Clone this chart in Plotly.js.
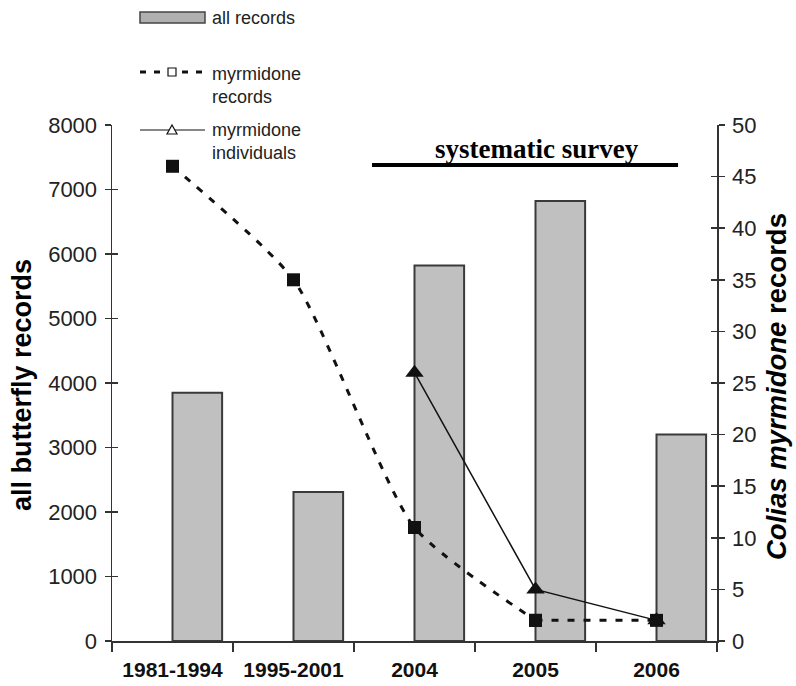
<!DOCTYPE html>
<html>
<head>
<meta charset="utf-8">
<script src="https://cdn.plot.ly/plotly-3.0.1.min.js"></script>
<style>html,body{margin:0;padding:0;background:#fff;}#chart{width:796px;height:686px;}</style>
</head>
<body>
<div id="chart"></div>
<script>
// ---- data ----
const periods = ["1981-1994", "1995-2001", "2004", "2005", "2006"];
const allRecords = [3850, 2310, 5820, 6820, 3200];
const myrmidoneRecords = [46, 35, 11, 2, 2];
const myrmidoneIndividualPeriods = ["2004", "2005", "2006"];
const myrmidoneIndividuals = [26, 5, 2];
const leftTicks = [0, 1000, 2000, 3000, 4000, 5000, 6000, 7000, 8000];
const rightTicks = [0, 5, 10, 15, 20, 25, 30, 35, 40, 45, 50];

const axisColor = "#333333";
const font = "Liberation Sans, Arial, sans-serif";

const recLine = {color: "#111", width: 3, dash: "7px,9px"};
const recMarker = {symbol: "square", size: 13, color: "#111"};

const traces = [
  {
    type: "bar", x: periods, y: allRecords, name: "all records",
    width: 0.41, offset: 0,
    marker: {color: "#c0c0c0", line: {color: "#3a3a3a", width: 2}},
    showlegend: false
  },
  // myrmidone records: smoothed part (first four periods)
  {
    type: "scatter", mode: "lines+markers", x: periods.slice(0, 4), y: myrmidoneRecords.slice(0, 4), yaxis: "y2",
    name: "myrmidone records",
    line: Object.assign({shape: "spline", smoothing: 0.6}, recLine),
    marker: recMarker, showlegend: false
  },
  // myrmidone records: flat final segment
  {
    type: "scatter", mode: "lines+markers", x: periods.slice(3), y: myrmidoneRecords.slice(3), yaxis: "y2",
    name: "myrmidone records",
    line: recLine, marker: recMarker, showlegend: false
  },
  {
    type: "scatter", mode: "lines+markers", x: myrmidoneIndividualPeriods, y: myrmidoneIndividuals, yaxis: "y2",
    name: "myrmidone individuals",
    line: {color: "#111", width: 1.5},
    marker: {symbol: "triangle-up", size: 16, color: "#111"},
    showlegend: false
  }
];

// helpers for paper coordinates of the decorative legend (pixel based)
const L = 112, R = 717, T = 125, B = 641;
const px = X => (X - L) / (R - L);
const py = Y => (B - Y) / (B - T);

const shapes = [
  // legend: all records
  {type: "rect", xref: "paper", yref: "paper", x0: px(140), x1: px(205), y0: py(23), y1: py(12),
   fillcolor: "#b0b0b0", line: {color: "#444", width: 1.5}},
  // legend: myrmidone records
  {type: "line", xref: "paper", yref: "paper", x0: px(140), x1: px(205), y0: py(72), y1: py(72),
   line: {color: "#111", width: 3, dash: "6px,8px"}},
  {type: "rect", xref: "paper", yref: "paper", x0: px(168), x1: px(176), y0: py(76), y1: py(68),
   fillcolor: "#fff", line: {color: "#111", width: 1.2}},
  // legend: myrmidone individuals
  {type: "line", xref: "paper", yref: "paper", x0: px(140), x1: px(205), y0: py(130), y1: py(130),
   line: {color: "#111", width: 1.2}},
  {type: "path", xref: "paper", yref: "paper",
   path: "M " + px(167) + " " + py(134) + " L " + px(177) + " " + py(134) + " L " + px(172) + " " + py(125) + " Z",
   fillcolor: "#fff", line: {color: "#111", width: 1.2}},
  // systematic survey bar
  {type: "line", xref: "x", yref: "y", x0: 1.649, x1: 4.178, y0: 7380, y1: 7380,
   line: {color: "#000", width: 4}}
];

const annotations = [
  {xref: "paper", yref: "paper", x: px(210), y: py(18), text: "all records", showarrow: false,
   xanchor: "left", yanchor: "middle", font: {family: font, size: 18, color: "#222"}},
  {xref: "paper", yref: "paper", x: px(210), y: py(85), text: "myrmidone<br>records", showarrow: false,
   xanchor: "left", yanchor: "middle", align: "left", font: {family: font, size: 18, color: "#222"}},
  {xref: "paper", yref: "paper", x: px(210), y: py(141), text: "myrmidone<br>individuals", showarrow: false,
   xanchor: "left", yanchor: "middle", align: "left", font: {family: font, size: 18, color: "#222"}},
  {xref: "x", yref: "y", x: 3.012, y: 7380, yshift: -1, text: "<b>systematic survey</b>", showarrow: false,
   xanchor: "center", yanchor: "bottom", font: {family: "Liberation Serif, Times New Roman, serif", size: 27, color: "#000"}},
  {xref: "paper", yref: "paper", x: px(22), y: py(385), text: "<b>all butterfly records</b>", showarrow: false,
   textangle: -90, xanchor: "center", yanchor: "middle", font: {family: font, size: 27, color: "#000"}},
  {xref: "paper", yref: "paper", x: px(776), y: py(387), text: "<b><i>Colias myrmidone</i> records</b>", showarrow: false,
   textangle: -90, xanchor: "center", yanchor: "middle", font: {family: font, size: 27.5, color: "#000"}}
];

const layout = {
  width: 796, height: 686,
  margin: {l: L, r: 796 - R, t: T, b: 686 - B},
  paper_bgcolor: "#fff", plot_bgcolor: "#fff",
  showlegend: false,
  font: {family: font, color: "#222"},
  xaxis: {
    type: "category", categoryorder: "array", categoryarray: periods,
    range: [-0.5, 4.5], tickson: "boundaries", ticks: "outside", ticklen: 9, tickwidth: 1.5, tickcolor: axisColor,
    showline: true, linecolor: axisColor, linewidth: 1.5, showgrid: false, zeroline: false,
    tickfont: {family: font, size: 21, color: "#111", weight: "bold"}, ticklabelstandoff: 9
  },
  yaxis: {
    range: [0, 8000], tickvals: leftTicks, ticks: "outside", ticklen: 6, tickwidth: 1.5, tickcolor: axisColor,
    showline: true, linecolor: axisColor, linewidth: 1.5, showgrid: false, zeroline: false,
    tickfont: {family: font, size: 22, color: "#222"}, ticklabelstandoff: 3
  },
  yaxis2: {
    overlaying: "y", side: "right", range: [0, 50], tickvals: rightTicks,
    ticks: "outside", ticklen: 6, tickwidth: 1.5, tickcolor: axisColor,
    showline: true, linecolor: axisColor, linewidth: 1.5, showgrid: false, zeroline: false,
    tickfont: {family: font, size: 22, color: "#222"}, ticklabelstandoff: 3
  },
  yaxis3: {
    overlaying: "y", side: "left", range: [0, 8000], tickvals: leftTicks, ticks: "inside", ticklen: 6,
    tickwidth: 1.5, tickcolor: axisColor, showticklabels: false, showgrid: false, zeroline: false, showline: false
  },
  yaxis4: {
    overlaying: "y", side: "right", range: [0, 50], tickvals: rightTicks, ticks: "inside", ticklen: 6,
    tickwidth: 1.5, tickcolor: axisColor, showticklabels: false, showgrid: false, zeroline: false, showline: false
  },
  shapes: shapes,
  annotations: annotations
};

// invisible helper traces so the inner tick axes are drawn
traces.push({type: "scatter", x: [periods[0]], y: [null], yaxis: "y3", showlegend: false, hoverinfo: "skip"});
traces.push({type: "scatter", x: [periods[0]], y: [null], yaxis: "y4", showlegend: false, hoverinfo: "skip"});

Plotly.newPlot("chart", traces, layout, {staticPlot: true});
</script>
</body>
</html>
